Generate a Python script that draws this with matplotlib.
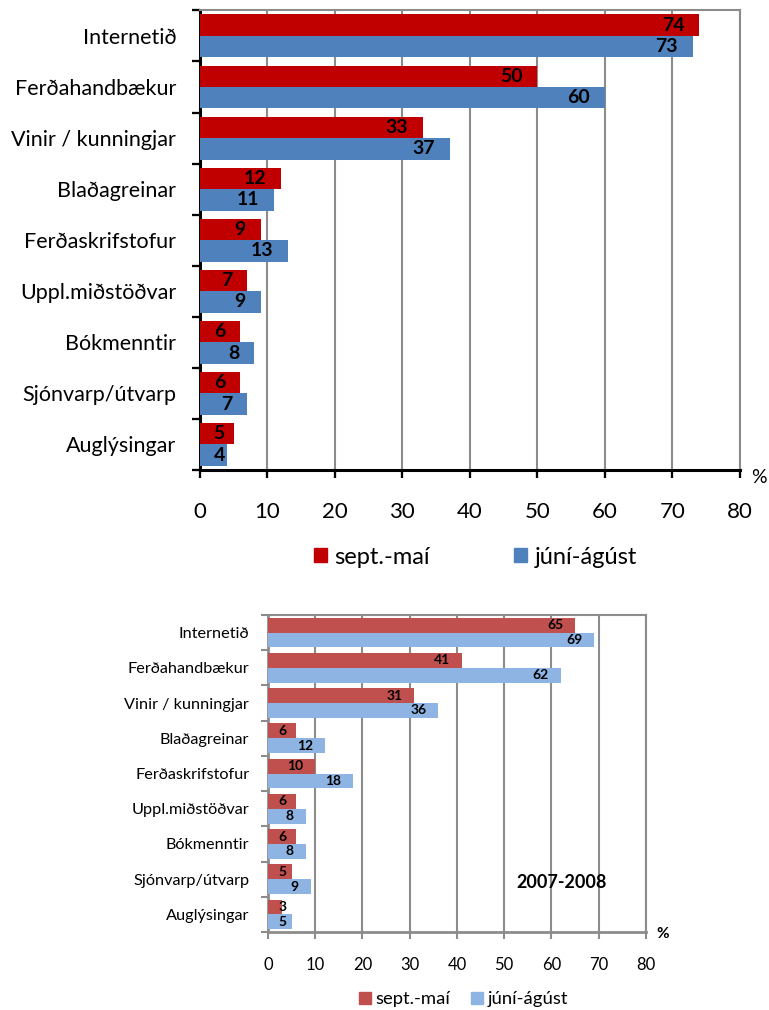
import numpy as np
import matplotlib.pyplot as plt
from matplotlib.patches import Patch
from matplotlib.ticker import FixedLocator

plt.rcParams['font.family'] = ['Lato', 'DejaVu Sans']

categories = ['Internetið', 'Ferðahandbækur', 'Vinir / kunningjar', 'Blaðagreinar',
              'Ferðaskrifstofur', 'Uppl.miðstöðvar', 'Bókmenntir',
              'Sjónvarp/útvarp', 'Auglýsingar']
series_names = ['sept.-maí', 'júní-ágúst']

# top chart (latest survey)
top_winter = [74, 50, 33, 12, 9, 7, 6, 6, 5]
top_summer = [73, 60, 37, 11, 13, 9, 8, 7, 4]

# bottom chart, 2007-2008
bot_winter = [65, 41, 31, 6, 10, 6, 6, 5, 3]
bot_summer = [69, 62, 36, 12, 18, 8, 8, 9, 5]
bot_title = '2007-2008'

xticks = [0, 10, 20, 30, 40, 50, 60, 70, 80]


def draw(ax, winter, summer, colors, lab_fs, val_fs, spine_col, spine_lw,
         tick_len, xpad, ypad, off, minx, tick_fs):
    n = len(categories)
    y = np.arange(n)
    h = 0.42
    ax.barh(y - h / 2, winter, height=h, color=colors[0], zorder=3)
    ax.barh(y + h / 2, summer, height=h, color=colors[1], zorder=3)
    for vals, dy in ((winter, -h / 2), (summer, h / 2)):
        for i, v in enumerate(vals):
            ax.text(max(v - off, minx), i + dy, str(v), ha='right', va='center',
                    fontsize=val_fs, fontweight='bold', color='black', zorder=4)
    ax.set_ylim(n - 0.5, -0.5)
    ax.set_xlim(0, 80)
    ax.set_xticks(xticks)
    ax.set_yticks(y)
    ax.set_yticklabels(categories, fontsize=lab_fs)
    ax.yaxis.set_minor_locator(FixedLocator(np.arange(-0.5, n, 1.0)))
    ax.tick_params(axis='y', which='major', length=0, pad=ypad)
    ax.tick_params(axis='y', which='minor', length=tick_len, width=spine_lw * 0.75,
                   color=spine_col)
    ax.tick_params(axis='x', length=tick_len, width=spine_lw * 0.75, color=spine_col,
                   labelsize=tick_fs, pad=xpad)
    ax.grid(axis='x', color='#8c8c8c', linewidth=1.5, zorder=0)
    for s in ('left', 'bottom'):
        ax.spines[s].set_color(spine_col)
        ax.spines[s].set_linewidth(spine_lw)
    for s in ('top', 'right'):
        ax.spines[s].set_color('#8c8c8c')
        ax.spines[s].set_linewidth(1.5)
    ax.set_axisbelow(True)


fig = plt.figure(figsize=(7.69, 10.10), dpi=100)

ax1 = fig.add_axes([0.260, 0.5347, 0.702, 0.455])
draw(ax1, top_winter, top_summer, ('#c00000', '#4f81bd'), 15.5, 14,
     'black', 2.2, 6, 17, 17, 2.2, 3.7, 16)
ax1.text(1.021, -0.017, '%', transform=ax1.transAxes, fontsize=14,
         ha='left', va='center')
fig.legend(handles=[Patch(color='#c00000'), Patch(color='#4f81bd')],
           labels=series_names, loc='center', bbox_to_anchor=(0.618, 0.4485),
           ncol=2, frameon=False, fontsize=17, handlelength=0.55,
           handleheight=0.55, handletextpad=0.3, columnspacing=3.6)

ax2 = fig.add_axes([0.3485, 0.0772, 0.4915, 0.3139])
draw(ax2, bot_winter, bot_summer, ('#c0504d', '#8db4e2'), 11.7, 10,
     '#8c8c8c', 2.0, 5, 13, 13.5, 2.5, 4.0, 12)
ax2.text(0.776, 0.155, bot_title, transform=ax2.transAxes, fontsize=13,
         fontweight='bold', ha='center', va='center')
ax2.text(1.028, -0.005, '%', transform=ax2.transAxes, fontsize=11,
         fontweight='bold', ha='left', va='center')
fig.legend(handles=[Patch(color='#c0504d'), Patch(color='#8db4e2')],
           labels=series_names, loc='center', bbox_to_anchor=(0.603, 0.0105),
           ncol=2, frameon=False, fontsize=13.3, handlelength=0.65,
           handleheight=0.65, handletextpad=0.27, columnspacing=1.1)

fig.savefig('out.png', dpi=100)
